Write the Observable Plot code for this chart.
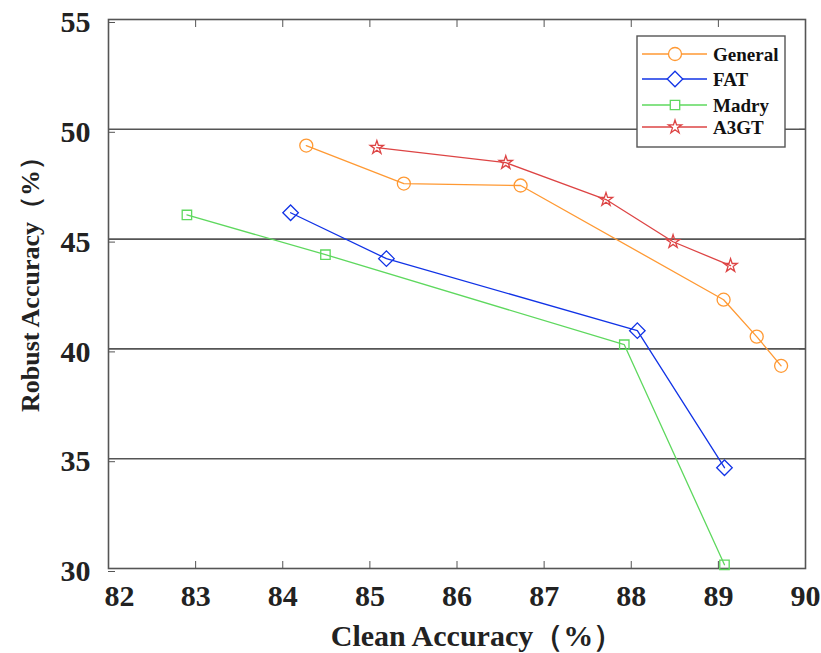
<!DOCTYPE html>
<html><head><meta charset="utf-8">
<script src="https://cdn.jsdelivr.net/npm/d3@7"></script>
<script src="https://cdn.jsdelivr.net/npm/@observablehq/plot@0.6"></script>
<style>body{margin:0;background:#fff}</style>
</head><body><div id="chart"></div>
<script>
const seriesNames = ["General", "FAT", "Madry", "A3GT"];
const seriesColors = ["#FF9933", "#1133E6", "#5ED85E", "#DD4444"];
const seriesSymbols = ["circle", "diamond2", "square2", "star"];
const generalX = [84.27, 85.39, 86.73, 89.06, 89.44, 89.72];
const generalY = [49.26, 47.53, 47.44, 42.24, 40.56, 39.23];
const fatX = [84.09, 85.19, 88.07, 89.07];
const fatY = [46.20, 44.11, 40.83, 34.59];
const madryX = [82.90, 84.49, 87.92, 89.07];
const madryY = [46.10, 44.29, 40.19, 30.17];
const a3gtX = [85.08, 86.56, 87.71, 88.48, 89.14];
const a3gtY = [49.17, 48.48, 46.80, 44.88, 43.79];
const xTicks = [82, 83, 84, 85, 86, 87, 88, 89, 90];
const yTicks = [30, 35, 40, 45, 50, 55];
const gridY = [35, 40, 45, 50];
const xLabel = "Clean Accuracy（%）";
const yLabel = "Robust Accuracy（%）";

const allX = [generalX, fatX, madryX, a3gtX];
const allY = [generalY, fatY, madryY, a3gtY];
const data = [];
seriesNames.forEach((s, i) => allX[i].forEach((x, j) => data.push({series: s, x, y: allY[i][j]})));
const symMap = Object.fromEntries(seriesNames.map((s, i) => [s, seriesSymbols[i]]));
const rMap = {General: 6.5, FAT: 7, Madry: 6, A3GT: 4.2};

const font = "'Liberation Serif', 'Times New Roman', serif";
const plot = Plot.plot({
  width: 821, height: 653,
  marginLeft: 108, marginRight: 16, marginTop: 19, marginBottom: 85,
  style: {fontFamily: font, fontWeight: "bold", fontSize: "30px", color: "#222", background: "#fff"},
  x: {domain: [82, 90]},
  y: {domain: [30, 55]},
  color: {domain: seriesNames, range: seriesColors},
  marks: [
    Plot.gridY(gridY, {stroke: "#555", strokeOpacity: 1, strokeWidth: 1.6}),
    Plot.frame({stroke: "#555", strokeWidth: 1.6}),
    Plot.axisX(xTicks.slice(1), {anchor: "bottom", tickSize: -7, tickPadding: 23, stroke: "#555", fontSize: 30, label: null}),
    Plot.axisX(xTicks.slice(0, 1), {anchor: "bottom", tickSize: 0, tickPadding: 16, dx: 11, fontSize: 30, label: null}),
    Plot.axisX(xTicks, {anchor: "top", tickSize: -7, text: null, stroke: "#555", label: null}),
    Plot.axisY(yTicks, {anchor: "left", tickSize: -7, tickPadding: 25, dy: 3, stroke: "#555", fontSize: 30, label: null}),
    Plot.axisY(yTicks, {anchor: "right", tickSize: -7, text: null, stroke: "#555", label: null}),
    Plot.text([xLabel], {text: d => d, frameAnchor: "bottom", lineAnchor: "middle", textAnchor: "middle", dy: 68, dx: 20, fontSize: 30, fontWeight: "bold", fill: "#222"}),
    Plot.text([yLabel], {text: d => d, frameAnchor: "left", lineAnchor: "middle", textAnchor: "middle", rotate: -90, dx: -78, dy: -16, fontSize: 26, fontWeight: "bold", fill: "#222"}),
    Plot.line(data, {x: "x", y: "y", z: "series", stroke: "series", strokeWidth: 1.3}),
    Plot.dot(data, {x: "x", y: "y", stroke: "series", fill: "none", strokeWidth: 1.3,
      symbol: d => symMap[d.series], r: d => rMap[d.series]}),
  ],
  symbol: {type: "identity"},
  r: {type: "identity"}
});
document.getElementById("chart").appendChild(plot);

// legend
const svg = d3.select(plot);
const lg = svg.append("g").attr("transform", "translate(637,36)");
lg.append("rect").attr("width", 148).attr("height", 111).attr("fill", "#fff").attr("stroke", "#555").attr("stroke-width", 1.4);
const rowY = [18, 43, 69, 91];
seriesNames.forEach((s, i) => {
  const y = rowY[i];
  const c = seriesColors[i];
  lg.append("line").attr("x1", 5).attr("x2", 70).attr("y1", y).attr("y2", y).attr("stroke", c).attr("stroke-width", 1.3);
  const sym = {circle: d3.symbolCircle, diamond2: d3.symbolDiamond2, square2: d3.symbolSquare2, star: d3.symbolStar}[seriesSymbols[i]];
  const r = rMap[s];
  lg.append("path").attr("transform", `translate(38,${y})`).attr("d", d3.symbol(sym, r * r * Math.PI)())
    .attr("fill", "#fff").attr("stroke", c).attr("stroke-width", 1.3);
  lg.append("text").attr("x", 76).attr("y", y).attr("dy", "0.35em").text(s)
    .attr("text-anchor", "start")
    .attr("font-family", font).attr("font-weight", "bold").attr("font-size", "19px").attr("fill", "#111");
});
</script></body></html>
